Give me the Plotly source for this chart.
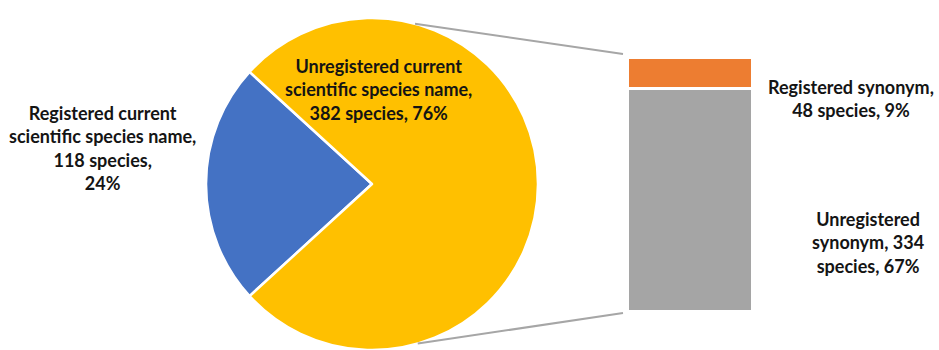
import math
import plotly.graph_objects as go

# ---- data ----
pie_labels = ["Registered current scientific species name", "Unregistered current scientific species name"]
pie_values = [118, 382]
pie_pcts = ["24%", "76%"]
bar_labels = ["Unregistered synonym", "Registered synonym"]
bar_values = [334, 48]
bar_pcts = ["67%", "9%"]

W, H = 939, 350
pie_colors = ["#4472C4", "#FFC000"]
bar_colors = ["#A5A5A5", "#ED7D31"]

# pie geometry (px)
cx, cy, r = 372, 184, 166
total = sum(pie_values)
rotation = 270 - 360 * pie_values[0] / total / 2

fig = go.Figure()
fig.add_trace(go.Pie(
    labels=pie_labels, values=pie_values, sort=False, direction="clockwise",
    rotation=rotation, marker=dict(colors=pie_colors, line=dict(color="white", width=2.5)),
    textinfo="none", hoverinfo="label+value+percent", showlegend=False,
    domain=dict(x=[(cx - r) / W, (cx + r) / W], y=[(H - cy - r) / H, (H - cy + r) / H]),
))

for lab, val, col in zip(bar_labels, bar_values, bar_colors):
    fig.add_trace(go.Bar(
        x=[0], y=[val], name=lab, width=1, marker=dict(color=col, line=dict(color="white", width=3)),
        showlegend=False, xaxis="x", yaxis="y",
    ))

bar_total = sum(bar_values)
fig.update_layout(
    width=W, height=H, margin=dict(l=0, r=0, t=0, b=0),
    paper_bgcolor="white", plot_bgcolor="white", barmode="stack",
    xaxis=dict(domain=[627 / W, 752 / W], range=[-0.5, 0.5], visible=False, fixedrange=True),
    yaxis=dict(domain=[39 / H, 293 / H], range=[0, bar_total], visible=False, fixedrange=True),
)

# connector lines from pie edge to bar corners
def pie_pt(clock_deg):
    a = math.radians(clock_deg)
    return (cx + r * math.sin(a)) / W, (H - (cy - r * math.cos(a))) / H

x0, y0 = pie_pt(15)
x1, y1 = pie_pt(164)
fig.add_shape(type="line", xref="paper", yref="paper", x0=x0, y0=y0, x1=623 / W, y1=(H - 54) / H,
              line=dict(color="#A6A6A6", width=2))
fig.add_shape(type="line", xref="paper", yref="paper", x0=x1, y0=y1, x1=623 / W, y1=(H - 313) / H,
              line=dict(color="#A6A6A6", width=2))

font = dict(family="Lato", size=18, color="#141414")
def ann(text, x, y):
    fig.add_annotation(text=text, x=x / W, y=(H - y) / H, xref="paper", yref="paper",
                       showarrow=False, font=font, align="center", xanchor="center", yanchor="middle")

ann(f"<b>Registered current<br>scientific species name,<br>{pie_values[0]} species,<br>{pie_pcts[0]}</b>", 102, 148)
ann(f"<b>Unregistered current<br>scientific species name,<br>{pie_values[1]} species, {pie_pcts[1]}</b>", 378, 89)
ann(f"<b>Registered synonym,<br>{bar_values[1]} species, {bar_pcts[1]}</b>", 851, 99)
ann(f"<b>Unregistered<br>synonym, {bar_values[0]}<br>species, {bar_pcts[0]}</b>", 868, 242)

fig.write_html("out.html")
